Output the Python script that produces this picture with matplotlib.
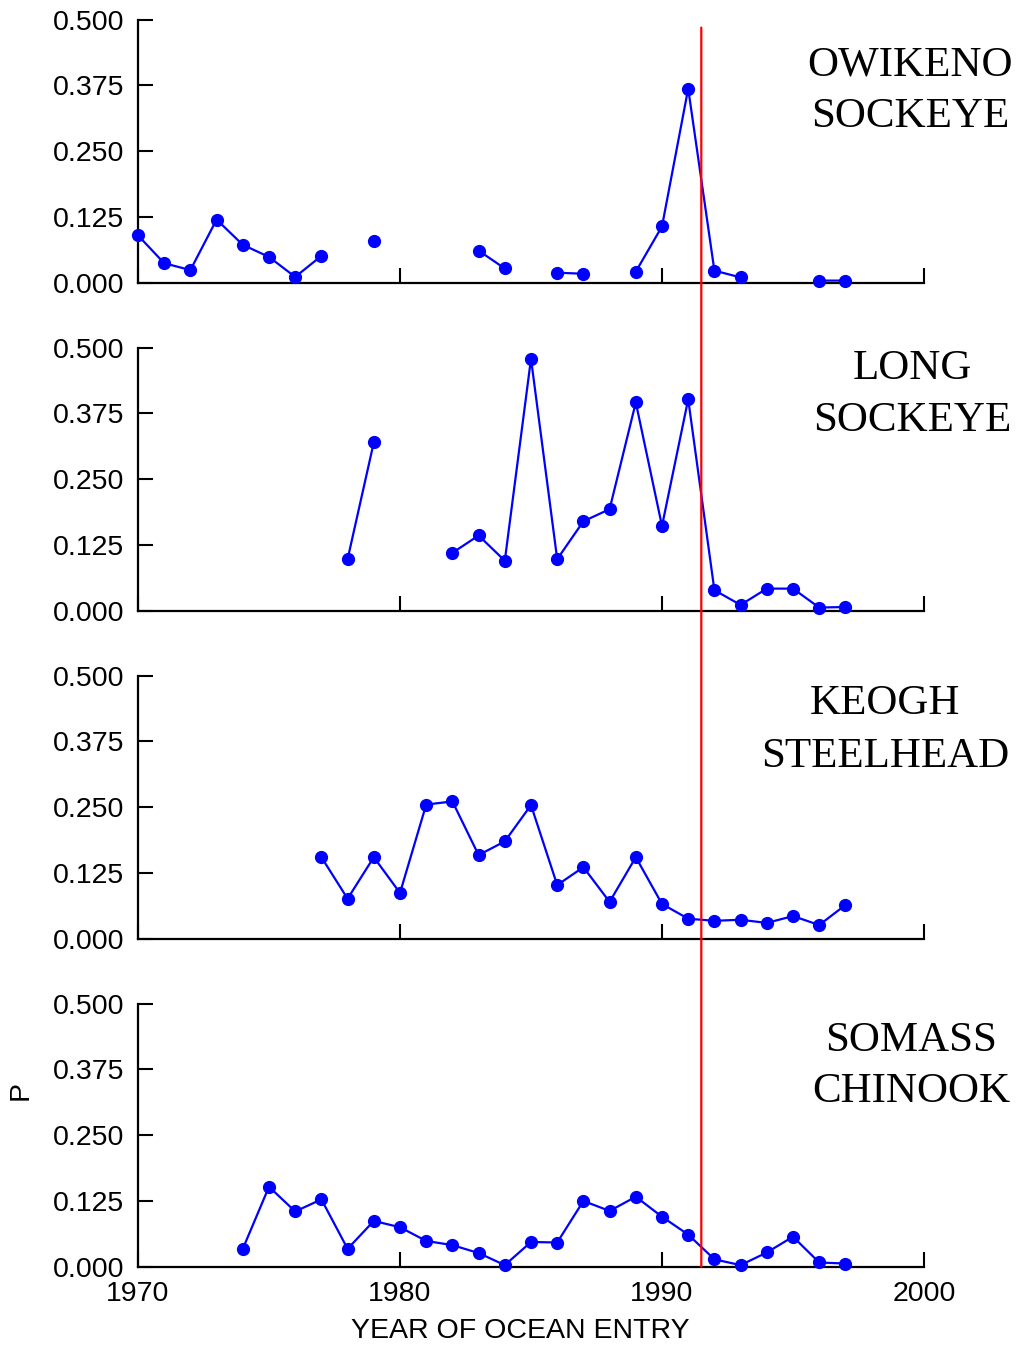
import matplotlib
matplotlib.use('Agg')
import matplotlib.pyplot as plt
from matplotlib.patches import ConnectionPatch
import numpy as np

nan = np.nan

# years of ocean entry shared by all four series
years = [1970, 1971, 1972, 1973, 1974, 1975, 1976, 1977, 1978, 1979,
         1980, 1981, 1982, 1983, 1984, 1985, 1986, 1987, 1988, 1989,
         1990, 1991, 1992, 1993, 1994, 1995, 1996, 1997]

owikeno = [0.090, 0.037, 0.024, 0.120, 0.072, 0.049, 0.011, 0.051, nan, 0.080,
           nan, nan, nan, 0.061, 0.027, nan, 0.019, 0.017, nan, 0.021,
           0.107, 0.369, 0.023, 0.010, nan, nan, 0.004, 0.004]

long_sk = [nan, nan, nan, nan, nan, nan, nan, nan, 0.098, 0.320,
           nan, nan, 0.110, 0.143, 0.095, 0.479, 0.098, 0.170, 0.193, 0.396,
           0.161, 0.402, 0.039, 0.011, 0.042, 0.042, 0.006, 0.007]

keogh = [nan, nan, nan, nan, nan, nan, nan, 0.155, 0.076, 0.155,
         0.087, 0.255, 0.261, 0.159, 0.185, 0.254, 0.102, 0.136, 0.070, 0.155,
         0.066, 0.038, 0.034, 0.036, 0.030, 0.043, 0.026, 0.064]

somass = [nan, nan, nan, nan, 0.034, 0.152, 0.105, 0.128, 0.034, 0.087,
          0.075, 0.049, 0.041, 0.026, 0.003, 0.047, 0.046, 0.125, 0.106, 0.133,
          0.095, 0.061, 0.014, 0.003, 0.027, 0.057, 0.008, 0.006]

series = [owikeno, long_sk, keogh, somass]
names = [('OWIKENO', 'SOCKEYE'), ('LONG', 'SOCKEYE'),
         ('KEOGH', 'STEELHEAD'), ('SOMASS', 'CHINOOK')]

yticks = [0.0, 0.125, 0.25, 0.375, 0.5]
xticks = [1970, 1980, 1990, 2000]
break_year = 1991.5

W, H = 1016, 1346
plt.rcParams['font.family'] = ['Liberation Sans', 'DejaVu Sans']
fig = plt.figure(figsize=(W / 100, H / 100), dpi=100)

bottoms = [282.7, 610.7, 938.7, 1266.7]
label_x = [910, 912, 885, 911]
label_y = [(75, 127), (379, 431), (714, 767), (1051, 1102)]

axes = []
for i, vals in enumerate(series):
    ax = fig.add_axes([138 / W, 1 - bottoms[i] / H, 786 / W, 263 / H])
    ax.plot(years, vals, 'o-', color='#0000ff', lw=1.6, ms=8.5, clip_on=False, zorder=3)
    ax.set_xlim(1970, 2000)
    ax.set_ylim(0, 0.5)
    ax.spines['top'].set_visible(False)
    ax.spines['right'].set_visible(False)
    for s in ['left', 'bottom']:
        ax.spines[s].set_linewidth(1.6)
    ax.set_yticks(yticks)
    ax.set_yticklabels(['%.3f' % v for v in yticks])
    ax.set_xticks(xticks)
    ax.tick_params(direction='in', length=11, width=1.5, labelsize=20.5, pad=10)
    if i < 3:
        ax.set_xticklabels([])
    ax.patch.set_alpha(0)
    for line, yy in zip(names[i], label_y[i]):
        fig.text(label_x[i] / W, 1 - yy / H, line, ha='center', va='baseline',
                 family='Liberation Serif', fontsize=31)
    axes.append(ax)

# red vertical line through all panels
con = ConnectionPatch(xyA=(break_year, 0.485), coordsA='data', axesA=axes[0],
                      xyB=(break_year, 0.0), coordsB='data', axesB=axes[3],
                      color='#ff0000', lw=1.6, zorder=5)
fig.add_artist(con)

fig.text(520 / W, 1 - 1331 / H, 'YEAR OF OCEAN ENTRY', ha='center', va='center', fontsize=20.5)
fig.text(21 / W, 1 - 1090 / H, 'P', ha='center', va='center', rotation=90, fontsize=20.5)

fig.savefig('out.png', dpi=100)
